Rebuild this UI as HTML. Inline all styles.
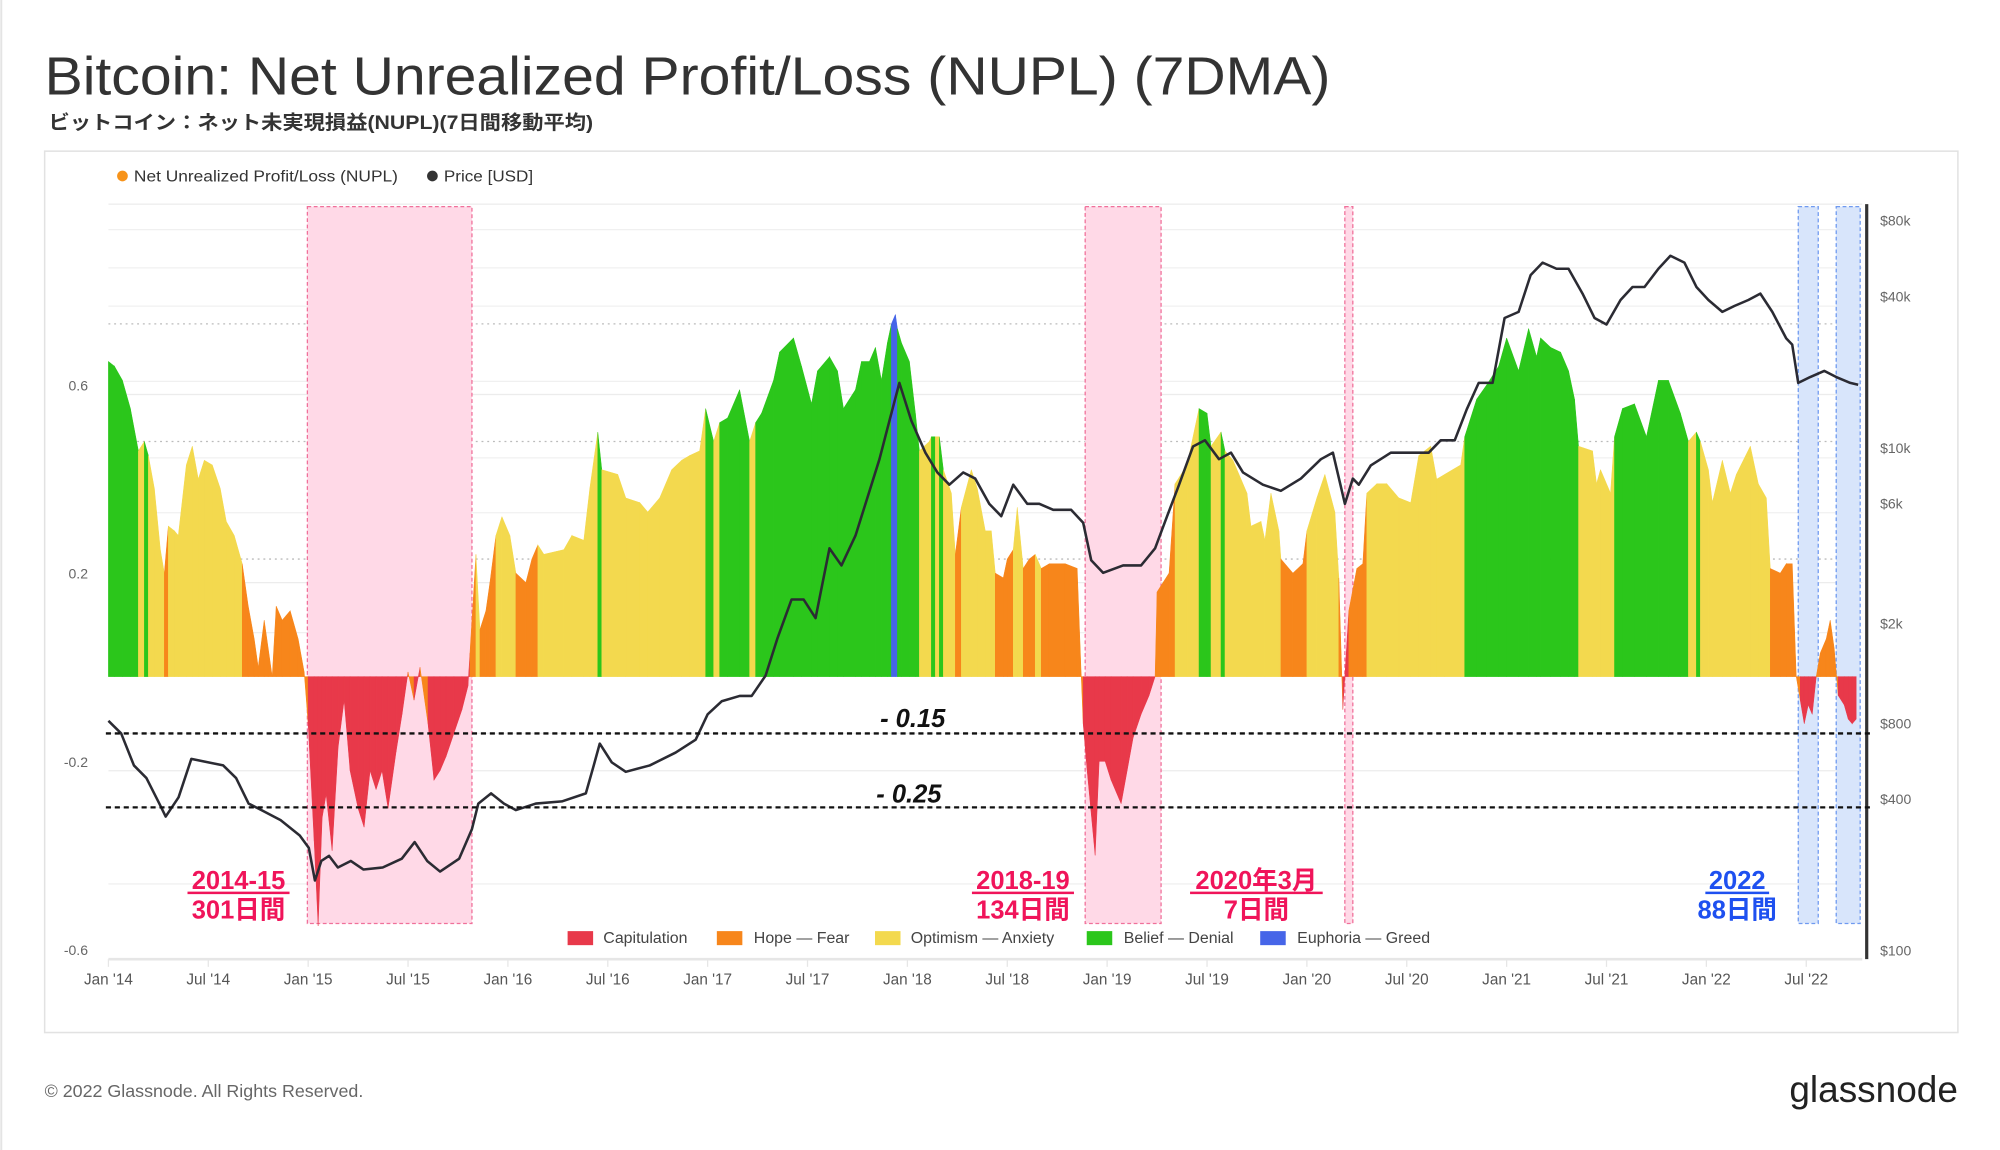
<!DOCTYPE html>
<html><head><meta charset="utf-8">
<style>
html,body{margin:0;padding:0;background:#fff;}
svg{display:block;}
text{font-family:"Liberation Sans","Noto Sans CJK JP",sans-serif;}
</style></head>
<body>
<svg id="chart" width="2000" height="1150" viewBox="0 0 1568 901.6" preserveAspectRatio="none" xmlns="http://www.w3.org/2000/svg">
  <rect x="0" y="0" width="1568" height="902" fill="#fff"/>
  <line x1="1" y1="0" x2="1" y2="902" stroke="#e4e4e4" stroke-width="1.5"/>
  <text x="35" y="74" font-size="42" fill="#333" textLength="1008" lengthAdjust="spacingAndGlyphs">Bitcoin: Net Unrealized Profit/Loss (NUPL) (7DMA)</text>
  <text x="38" y="101" font-size="15" font-weight="bold" fill="#333" textLength="427" lengthAdjust="spacingAndGlyphs">ビットコイン：ネット未実現損益(NUPL)(7日間移動平均)</text>
  <rect x="35" y="118.5" width="1500" height="691" fill="#fff" stroke="#e2e2e2" stroke-width="1.2"/>
  <g>
    <circle cx="96" cy="138" r="4.2" fill="#f7931a"/>
    <text x="105" y="142.5" font-size="12.5" fill="#333" textLength="207" lengthAdjust="spacingAndGlyphs">Net Unrealized Profit/Loss (NUPL)</text>
    <circle cx="339" cy="138" r="4.2" fill="#333"/>
    <text x="348" y="142.5" font-size="12.5" fill="#333" textLength="70" lengthAdjust="spacingAndGlyphs">Price [USD]</text>
  </g>
  <g id="grid"></g>
  <g id="regions"></g>
  <g id="bars"></g>
  <g id="priceg"></g>
  <g id="axes"></g>
  <g id="annot"></g>
  <g>
    <rect x="445" y="730" width="20" height="11" fill="#e8394a"/>
    <text x="473" y="739.5" font-size="12.5" fill="#444">Capitulation</text>
    <rect x="562" y="730" width="20" height="11" fill="#f7861b"/>
    <text x="591" y="739.5" font-size="12.5" fill="#444">Hope — Fear</text>
    <rect x="686" y="730" width="20" height="11" fill="#f3d94e"/>
    <text x="714" y="739.5" font-size="12.5" fill="#444">Optimism — Anxiety</text>
    <rect x="852" y="730" width="20" height="11" fill="#2bc61b"/>
    <text x="881" y="739.5" font-size="12.5" fill="#444">Belief — Denial</text>
    <rect x="988" y="730" width="20" height="11" fill="#4665e8"/>
    <text x="1017" y="739.5" font-size="12.5" fill="#444">Euphoria — Greed</text>
  </g>
  <text x="35" y="860" font-size="14" fill="#666">© 2022 Glassnode. All Rights Reserved.</text>
  <text x="1535" y="864" font-size="29" fill="#222" text-anchor="end">glassnode</text>
</svg>
<script>
const nuplDates = [2014.00,2014.03,2014.07,2014.11,2014.15,2014.18,2014.20,2014.23,2014.26,2014.28,2014.30,2014.33,2014.35,2014.39,2014.42,2014.45,2014.48,2014.52,2014.56,2014.59,2014.63,2014.67,2014.70,2014.73,2014.75,2014.78,2014.80,2014.82,2014.84,2014.87,2014.91,2014.95,2014.98,
2015.00,2015.03,2015.05,2015.07,2015.09,2015.12,2015.15,2015.18,2015.21,2015.25,2015.28,2015.31,2015.34,2015.37,2015.40,2015.44,2015.47,2015.50,2015.53,2015.56,2015.60,2015.63,2015.66,2015.69,2015.73,2015.77,2015.80,
2015.81,2015.84,2015.86,2015.89,2015.91,2015.94,2015.97,2016.01,2016.04,2016.09,2016.12,2016.15,2016.18,2016.28,2016.32,2016.38,2016.41,2016.45,2016.47,2016.55,2016.59,2016.66,2016.70,2016.76,2016.82,2016.87,2016.91,2016.96,2016.99,
2017.03,2017.06,2017.10,2017.16,2017.21,2017.24,2017.27,2017.33,2017.36,2017.43,2017.47,2017.52,2017.55,2017.61,2017.65,2017.68,2017.74,2017.77,2017.81,2017.84,2017.87,2017.90,2017.92,2017.94,2017.95,2017.97,
2018.01,2018.04,2018.06,2018.11,2018.12,2018.14,2018.16,2018.18,2018.22,2018.24,2018.27,2018.32,2018.35,2018.39,2018.42,2018.44,2018.48,2018.50,2018.53,2018.55,2018.58,2018.61,2018.64,2018.67,2018.71,2018.79,2018.85,2018.87,2018.88,2018.90,2018.94,2018.96,2018.99,
2019.02,2019.07,2019.10,2019.13,2019.17,2019.21,2019.24,2019.25,2019.31,2019.34,2019.40,2019.46,2019.50,2019.52,2019.57,2019.59,2019.63,2019.70,2019.72,2019.77,2019.79,2019.82,2019.86,2019.87,2019.93,2019.98,
2020.00,2020.05,2020.09,2020.14,2020.16,2020.18,2020.21,2020.25,2020.28,2020.30,2020.35,2020.40,2020.46,2020.52,2020.56,2020.62,2020.65,2020.69,2020.77,2020.79,2020.85,2020.90,2020.96,
2021.00,2021.06,2021.11,2021.15,2021.17,2021.22,2021.27,2021.31,2021.34,2021.36,2021.43,2021.45,2021.47,2021.52,2021.54,2021.58,2021.64,2021.70,2021.76,2021.81,2021.87,2021.91,2021.95,2021.97,
2022.01,2022.03,2022.08,2022.12,2022.15,2022.22,2022.26,2022.30,2022.32,2022.37,2022.40,2022.43,2022.45,2022.47,2022.49,2022.51,2022.53,2022.55,2022.57,2022.60,2022.62,2022.64,2022.66,2022.69,2022.71,2022.73,2022.75];
const nuplValues = [0.67,0.66,0.63,0.57,0.48,0.50,0.47,0.40,0.27,0.22,0.32,0.31,0.30,0.45,0.49,0.42,0.46,0.45,0.40,0.33,0.30,0.24,0.15,0.08,0.02,0.12,0.06,0.00,0.15,0.12,0.14,0.08,0.01,
-0.10,-0.35,-0.53,-0.30,-0.25,-0.37,-0.15,-0.05,-0.20,-0.28,-0.32,-0.20,-0.24,-0.20,-0.28,-0.16,-0.08,0.01,-0.05,0.02,-0.10,-0.22,-0.20,-0.17,-0.12,-0.07,-0.02,
0.05,0.26,0.10,0.14,0.20,0.30,0.34,0.30,0.22,0.20,0.25,0.28,0.26,0.27,0.30,0.29,0.40,0.52,0.44,0.43,0.38,0.37,0.35,0.38,0.44,0.46,0.47,0.48,0.57,
0.50,0.54,0.55,0.61,0.50,0.54,0.56,0.63,0.69,0.72,0.66,0.58,0.65,0.68,0.65,0.57,0.61,0.67,0.67,0.70,0.63,0.71,0.75,0.77,0.74,0.71,
0.67,0.56,0.48,0.50,0.51,0.51,0.51,0.44,0.39,0.26,0.36,0.44,0.40,0.31,0.31,0.22,0.21,0.25,0.27,0.36,0.23,0.25,0.26,0.23,0.24,0.24,0.23,0.005,-0.10,-0.20,-0.38,-0.18,-0.18,
-0.22,-0.27,-0.20,-0.13,-0.08,-0.04,0.00,0.18,0.22,0.41,0.45,0.57,0.56,0.49,0.52,0.48,0.46,0.39,0.32,0.33,0.29,0.39,0.31,0.25,0.22,0.24,
0.31,0.38,0.43,0.35,0.21,-0.07,0.14,0.23,0.24,0.39,0.41,0.41,0.38,0.37,0.47,0.49,0.42,0.43,0.45,0.51,0.59,0.62,0.66,
0.72,0.65,0.74,0.68,0.72,0.70,0.69,0.65,0.59,0.49,0.48,0.41,0.44,0.39,0.51,0.57,0.58,0.51,0.63,0.63,0.56,0.50,0.52,0.50,
0.44,0.37,0.46,0.39,0.43,0.49,0.41,0.38,0.23,0.22,0.24,0.24,0.00,-0.05,-0.10,-0.06,-0.08,0.00,0.05,0.08,0.12,0.06,-0.04,-0.06,-0.09,-0.10,-0.09];
const nuplZones = ["G","G","G","G","Y","G","Y","Y","Y","O","Y","Y","Y","Y","Y","Y","Y","Y","Y","Y","Y","O","O","O","O","O","O","O","O","O","O","O","O",
"R","R","R","R","R","R","R","R","R","R","R","R","R","R","R","R","R","O","R","O","R","R","R","R","R","R","R",
"O","Y","O","O","O","Y","Y","Y","O","O","O","Y","Y","Y","Y","Y","Y","G","Y","Y","Y","Y","Y","Y","Y","Y","Y","Y","G",
"Y","G","G","G","Y","G","G","G","G","G","G","G","G","G","G","G","G","G","G","G","G","G","B","B","G","G",
"G","G","Y","Y","G","Y","G","Y","Y","O","Y","Y","Y","Y","Y","O","O","O","Y","Y","O","O","Y","O","O","O","O","O","R","R","R","R","R",
"R","R","R","R","R","R","O","O","O","Y","Y","G","G","Y","G","Y","Y","Y","Y","Y","Y","Y","Y","O","O","O",
"Y","Y","Y","Y","O","R","O","O","O","Y","Y","Y","Y","Y","Y","Y","Y","Y","Y","G","G","G","G",
"G","G","G","G","G","G","G","G","G","Y","Y","Y","Y","Y","G","G","G","G","G","G","G","Y","G","Y",
"Y","Y","Y","Y","Y","Y","Y","Y","O","O","O","O","O","R","R","R","R","O","O","O","O","O","R","R","R","R","R"];
const priceDates = [2014.00,2014.064,2014.128,2014.19,2014.255,2014.287,2014.351,2014.415,2014.479,2014.575,2014.639,2014.702,2014.766,2014.862,2014.958,2015.003,2015.034,2015.066,2015.105,2015.149,2015.213,2015.277,2015.373,2015.469,2015.533,2015.596,2015.66,2015.756,2015.82,2015.852,2015.916,2015.98,2016.04,2016.14,2016.27,2016.39,2016.43,2016.46,2016.52,2016.59,2016.71,2016.84,2016.94,2017.00,2017.07,2017.16,2017.22,2017.29,2017.35,2017.42,2017.48,2017.54,2017.61,2017.67,2017.74,2017.80,2017.86,2017.91,2017.96,2018.02,2018.09,2018.15,2018.21,2018.28,2018.34,2018.41,2018.47,2018.53,2018.60,2018.66,2018.73,2018.82,2018.88,2018.92,2018.98,2019.08,2019.17,2019.24,2019.30,2019.36,2019.43,2019.49,2019.56,2019.62,2019.68,2019.78,2019.87,2019.97,2020.07,2020.13,2020.19,2020.23,2020.26,2020.32,2020.42,2020.51,2020.61,2020.67,2020.74,2020.80,2020.86,2020.93,2020.99,2021.06,2021.12,2021.18,2021.25,2021.31,2021.38,2021.44,2021.50,2021.57,2021.63,2021.69,2021.76,2021.82,2021.89,2021.95,2022.01,2022.08,2022.14,2022.21,2022.27,2022.33,2022.40,2022.43,2022.46,2022.52,2022.59,2022.65,2022.72,2022.76];
const priceValues = [820,730,545,485,384,341,407,578,565,545,485,384,362,330,287,256,190,227,238,214,227,210,214,232,270,227,206,232,304,384,422,384,362,384,392,422,545,665,560,514,545,613,690,870,980,1030,1030,1240,1750,2490,2490,2100,3980,3400,4470,6340,9000,12800,18100,12800,9550,7970,7130,7970,7540,5980,5340,7130,5980,5980,5660,5660,5030,3570,3180,3400,3400,3980,5340,7130,10100,10700,9000,9550,7970,7130,6740,7540,9000,9550,5980,7540,7130,8500,9550,9550,9550,10700,10700,14200,18100,18100,32800,34700,48600,54500,51500,51500,41000,32800,30900,38700,43600,43600,51500,58000,54500,43600,38700,34700,36600,38700,41000,34700,27200,25700,18100,19100,20200,19100,18100,17800];
const leftTicks = [0.6,0.2,-0.2,-0.6];
const leftTickLabels = ["0.6","0.2","-0.2","-0.6"];
const rightTicks = [80000,40000,10000,6000,2000,800,400,100];
const rightTickLabels = ["$80k","$40k","$10k","$6k","$2k","$800","$400","$100"];
const xTickDates = [2014,2014.5,2015,2015.5,2016,2016.5,2017,2017.5,2018,2018.5,2019,2019.5,2020,2020.5,2021,2021.5,2022,2022.5];
const xTickLabels = ["Jan '14","Jul '14","Jan '15","Jul '15","Jan '16","Jul '16","Jan '17","Jul '17","Jan '18","Jul '18","Jan '19","Jul '19","Jan '20","Jul '20","Jan '21","Jul '21","Jan '22","Jul '22"];
const capitulationStarts = [2014.996,2018.89,2020.19];
const capitulationEnds = [2015.82,2019.27,2020.23];
const recent2022Starts = [2022.46,2022.65];
const recent2022Ends = [2022.56,2022.77];

const NS="http://www.w3.org/2000/svg";
const X0=85, XPY=156.6, Y0=530.5, YPV=368.75, PTOP=173, PPL=85.6;
function xOf(d){return X0+(d-2014)*XPY;}
function yOf(v){return Y0-v*YPV;}
function yPrice(p){return PTOP+Math.log(80000/p)*PPL;}
function mk(tag,attrs,parent){const e=document.createElementNS(NS,tag);for(const k in attrs)e.setAttribute(k,attrs[k]);parent.appendChild(e);return e;}
const zoneColor={R:"#e8394a",O:"#f7861b",Y:"#f3d94e",G:"#2bc61b",B:"#4665e8"};

const grid=document.getElementById('grid');
[173,203,233,292,352,395,489,568,626,686].forEach(function(y){
  const l=mk('line',{x1:85,x2:1460,y1:y+7,y2:y+7,stroke:'#f0f0f0','stroke-width':1},grid);
  
  
});
leftTicks.forEach(function(v){
  const l=mk('line',{x1:85,x2:1460,y1:yOf(v),y2:yOf(v),stroke:'#ececec','stroke-width':1},grid);
  
  
});
[0.75,0.5,0.25].forEach(function(v){
  const l=mk('line',{x1:85,x2:1460,y1:yOf(v),y2:yOf(v),stroke:'#bbb','stroke-width':1,'stroke-dasharray':'1.5,3'},grid);
  
  
});
mk('line',{x1:85,x2:1460,y1:160,y2:160,stroke:'#ececec','stroke-width':1},grid);

const reg=document.getElementById('regions');
capitulationStarts.forEach(function(s,i){
  const r=mk('rect',{x:xOf(s),y:162,width:Math.max(4,xOf(capitulationEnds[i])-xOf(s)),height:562,fill:'#ffd9e7',stroke:'#f0709a','stroke-width':1,'stroke-dasharray':'3,2'},reg);
  
  
});
recent2022Starts.forEach(function(s,i){
  const r=mk('rect',{x:xOf(s),y:162,width:xOf(recent2022Ends[i])-xOf(s),height:562,fill:'#d8e5fb',stroke:'#6f9af0','stroke-width':1,'stroke-dasharray':'3,2'},reg);
  
  
});

const bars=document.getElementById('bars');
for(let i=0;i<nuplDates.length-1;i++){
  const xa=xOf(nuplDates[i]), xb=xOf(nuplDates[i+1]);
  const pts=[xa+','+Y0, xa+','+yOf(nuplValues[i]), xb+','+yOf(nuplValues[i+1]), xb+','+Y0].join(' ');
  const p=mk('polygon',{points:pts,fill:zoneColor[nuplZones[i]],stroke:zoneColor[nuplZones[i]],'stroke-width':0.4},bars);
  
  
}

const pg=document.getElementById('priceg');
let d='';
priceDates.forEach(function(t,i){d+=(i?'L':'M')+xOf(t).toFixed(1)+','+yPrice(priceValues[i]).toFixed(1);});
const pl=mk('path',{d:d,fill:'none',stroke:'#2b2b33','stroke-width':2,'stroke-linejoin':'round'},pg);



const ax=document.getElementById('axes');
const bl=mk('line',{x1:85,x2:1460,y1:752,y2:752,stroke:'#e6e6e6','stroke-width':2},ax);


const rl=mk('line',{x1:1463.5,x2:1463.5,y1:160,y2:752,stroke:'#333','stroke-width':2.5},ax);


leftTicks.forEach(function(v,i){
  const t=mk('text',{x:69,y:yOf(v)-3,'font-size':11,fill:'#666','text-anchor':'end'},ax);
  t.textContent=leftTickLabels[i];
  
  
});
rightTicks.forEach(function(p,i){
  const t=mk('text',{x:1474,y:yPrice(p)+4,'font-size':11,fill:'#666'},ax);
  t.textContent=rightTickLabels[i];
  
  
});
xTickDates.forEach(function(dt,i){
  const tk=mk('line',{x1:xOf(dt),x2:xOf(dt),y1:752,y2:758,stroke:'#e6e6e6','stroke-width':1},ax);
  
  
  const t=mk('text',{x:xOf(dt),y:772,'font-size':12,fill:'#555','text-anchor':'middle'},ax);
  t.textContent=xTickLabels[i];
  
  
});

const an=document.getElementById('annot');
[[575,'- 0.15',690,570],[633,'- 0.25',687,629]].forEach(function(a){
  const l=mk('line',{x1:83,x2:1466,y1:a[0],y2:a[0],stroke:'#111','stroke-width':1.8,'stroke-dasharray':'4,3'},an);
  
  
  const t=mk('text',{x:a[2],y:a[3],'font-size':20,'font-weight':'bold','font-style':'italic',fill:'#111'},an);
  t.textContent=a[1];
  
  
});
[[187,'2014-15','301日間','#f0145a',80],[802,'2018-19','134日間','#f0145a',80],[985,'2020年3月','7日間','#f0145a',104],[1362,'2022','88日間','#1e50f0',50]].forEach(function(a){
  const t1=mk('text',{x:a[0],y:697,'font-size':20,'font-weight':'bold',fill:a[3],'text-anchor':'middle'},an);
  t1.textContent=a[1];
  
  
  const u=mk('line',{x1:a[0]-a[4]/2,x2:a[0]+a[4]/2,y1:700,y2:700,stroke:a[3],'stroke-width':2},an);
  
  
  const t2=mk('text',{x:a[0],y:720,'font-size':20,'font-weight':'bold',fill:a[3],'text-anchor':'middle'},an);
  t2.textContent=a[2];
  
  
});
</script>
</body></html>
